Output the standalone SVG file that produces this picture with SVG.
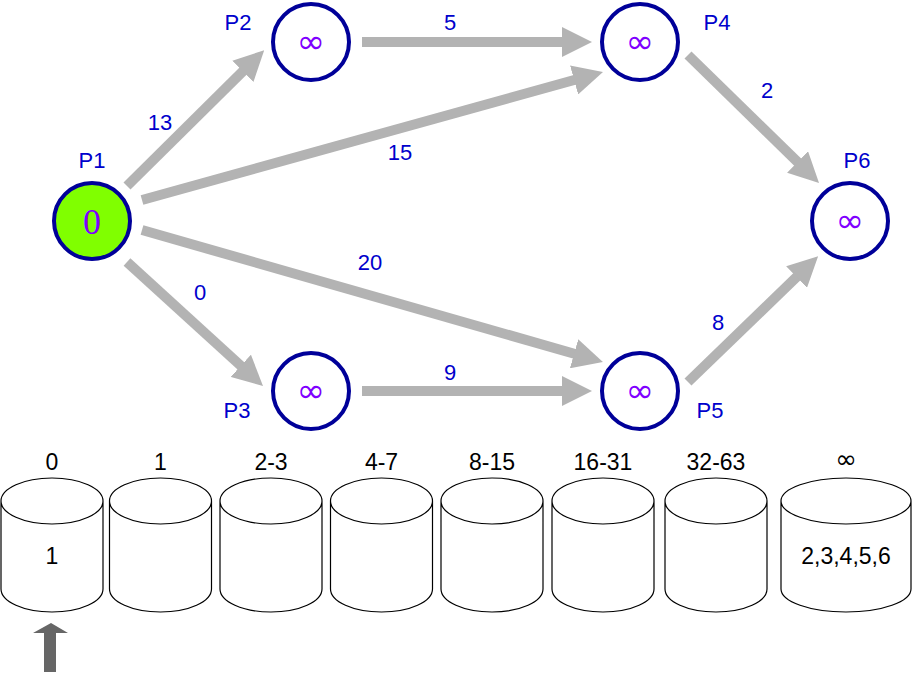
<svg xmlns="http://www.w3.org/2000/svg" width="913" height="678" viewBox="0 0 913 678">
  <style>
    .node { fill: #ffffff; stroke: #000099; stroke-width: 4; }
    .start { fill: #80ff00; }
    .val { font-family: "Liberation Serif", "DejaVu Serif", serif; font-size: 36px; fill: #7f00ff; text-anchor: middle; }
    .inf { font-family: "DejaVu Sans", "Liberation Sans", sans-serif; font-size: 34px; fill: #7f00ff; text-anchor: middle; }
    .lbl { font-family: "Liberation Sans", Arial, sans-serif; font-size: 22px; fill: #0000cc; text-anchor: middle; }
    .edge { stroke: #b3b3b3; stroke-width: 10; fill: none; marker-end: url(#head); }
    .cyl { fill: #ffffff; stroke: #000000; stroke-width: 1.2; }
    .txt { font-family: "Liberation Sans", Arial, sans-serif; font-size: 23px; fill: #000000; text-anchor: middle; }
    .txtinf { font-family: "DejaVu Sans", "Liberation Sans", sans-serif; font-size: 26px; fill: #000000; text-anchor: middle; }
  </style>
  <defs>
    <marker id="head" viewBox="0 0 30 30" markerWidth="30" markerHeight="30" markerUnits="userSpaceOnUse" refX="2" refY="15" orient="auto">
      <path d="M0,0 L30,15 L0,30 Z" fill="#b3b3b3"/>
    </marker>
  </defs>

  <rect width="913" height="678" fill="#ffffff"/>

  <!-- connectors -->
  <g id="edges">
    <line class="edge" x1="127" y1="186" x2="244.3" y2="69.9"/>
    <line class="edge" x1="362" y1="42" x2="564" y2="42"/>
    <line class="edge" x1="142" y1="200" x2="576" y2="79.5"/>
    <line class="edge" x1="688" y1="55" x2="799" y2="163.4"/>
    <line class="edge" x1="142" y1="230" x2="576" y2="354.3"/>
    <line class="edge" x1="127" y1="262" x2="242.3" y2="367.1"/>
    <line class="edge" x1="362" y1="391" x2="564" y2="391"/>
    <line class="edge" x1="688" y1="382" x2="798" y2="275.6"/>
  </g>

  <!-- edge weights -->
  <g id="weights">
    <text class="lbl" x="160" y="130">13</text>
    <text class="lbl" x="450" y="30">5</text>
    <text class="lbl" x="400" y="160">15</text>
    <text class="lbl" x="767" y="98">2</text>
    <text class="lbl" x="370" y="270">20</text>
    <text class="lbl" x="200" y="300">0</text>
    <text class="lbl" x="450" y="380">9</text>
    <text class="lbl" x="718" y="330">8</text>
  </g>

  <!-- graph nodes -->
  <g id="P1">
    <circle class="node start" cx="92" cy="221" r="38"/>
    <text class="val" x="92" y="234">0</text>
    <text class="lbl" x="92" y="168">P1</text>
  </g>
  <g id="P2">
    <circle class="node" cx="311" cy="42" r="38"/>
    <text class="inf" x="311" y="53">∞</text>
    <text class="lbl" x="238" y="30">P2</text>
  </g>
  <g id="P3">
    <circle class="node" cx="311" cy="391" r="38"/>
    <text class="inf" x="311" y="402">∞</text>
    <text class="lbl" x="237" y="418">P3</text>
  </g>
  <g id="P4">
    <circle class="node" cx="640" cy="42" r="38"/>
    <text class="inf" x="640" y="53">∞</text>
    <text class="lbl" x="717" y="30">P4</text>
  </g>
  <g id="P5">
    <circle class="node" cx="640" cy="391" r="38"/>
    <text class="inf" x="640" y="402">∞</text>
    <text class="lbl" x="710" y="418">P5</text>
  </g>
  <g id="P6">
    <circle class="node" cx="850" cy="221" r="38"/>
    <text class="inf" x="850" y="232">∞</text>
    <text class="lbl" x="857" y="168">P6</text>
  </g>

  <!-- buckets -->
  <g id="buckets">
    <g id="b0">
      <path class="cyl" d="M1,501 A51,23 0 0 1 103,501 V589 A51,23 0 0 1 1,589 Z M1,501 A51,23 0 0 0 103,501"/>
      <text class="txt" x="52" y="470">0</text>
      <text class="txt" x="52" y="564">1</text>
    </g>
    <g id="b1">
      <path class="cyl" d="M109.5,501 A51,23 0 0 1 211.5,501 V589 A51,23 0 0 1 109.5,589 Z M109.5,501 A51,23 0 0 0 211.5,501"/>
      <text class="txt" x="160.5" y="470">1</text>
    </g>
    <g id="b2">
      <path class="cyl" d="M220,501 A51,23 0 0 1 322,501 V589 A51,23 0 0 1 220,589 Z M220,501 A51,23 0 0 0 322,501"/>
      <text class="txt" x="271" y="470">2-3</text>
    </g>
    <g id="b3">
      <path class="cyl" d="M330.5,501 A51,23 0 0 1 432.5,501 V589 A51,23 0 0 1 330.5,589 Z M330.5,501 A51,23 0 0 0 432.5,501"/>
      <text class="txt" x="381.5" y="470">4-7</text>
    </g>
    <g id="b4">
      <path class="cyl" d="M441,501 A51,23 0 0 1 543,501 V589 A51,23 0 0 1 441,589 Z M441,501 A51,23 0 0 0 543,501"/>
      <text class="txt" x="492" y="470">8-15</text>
    </g>
    <g id="b5">
      <path class="cyl" d="M552,501 A51,23 0 0 1 654,501 V589 A51,23 0 0 1 552,589 Z M552,501 A51,23 0 0 0 654,501"/>
      <text class="txt" x="603" y="470">16-31</text>
    </g>
    <g id="b6">
      <path class="cyl" d="M665,501 A51,23 0 0 1 767,501 V589 A51,23 0 0 1 665,589 Z M665,501 A51,23 0 0 0 767,501"/>
      <text class="txt" x="716" y="470">32-63</text>
    </g>
    <g id="b7">
      <path class="cyl" d="M781,501 A65,23 0 0 1 911,501 V589 A65,23 0 0 1 781,589 Z M781,501 A65,23 0 0 0 911,501"/>
      <text class="txtinf" x="846" y="468">∞</text>
      <text class="txt" x="846" y="564">2,3,4,5,6</text>
    </g>
  </g>

  <!-- current bucket pointer -->
  <g id="pointer">
    <path d="M44,672 V633 H33 L51,623 L68,633 H56 V672 Z" fill="#666666"/>
  </g>
</svg>
